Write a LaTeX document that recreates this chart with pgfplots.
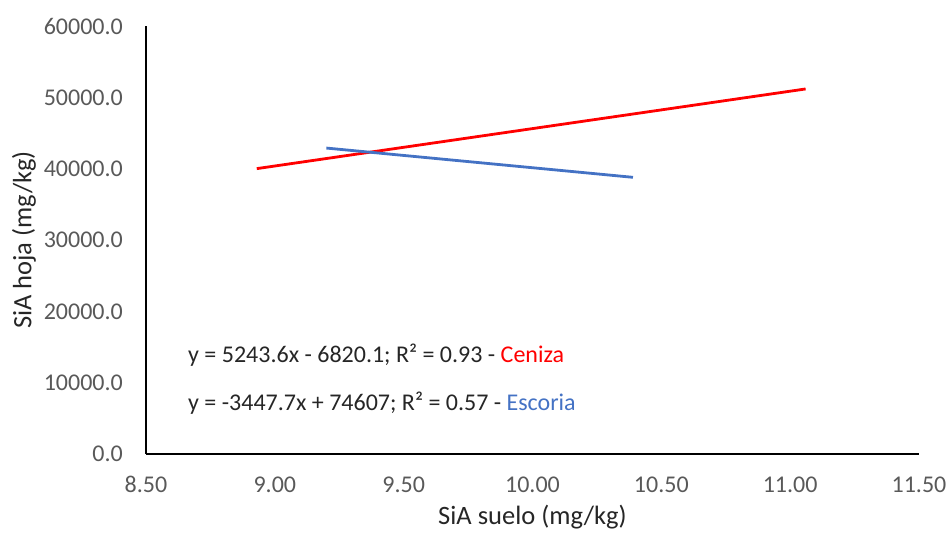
\documentclass[border=0pt]{standalone}
\usepackage{fontspec}
\setmainfont{Carlito}
\usepackage{pgfplots}
\pgfplotsset{compat=1.18}
\definecolor{ceniza}{HTML}{FF0000}
\definecolor{escoria}{HTML}{4472C4}
\definecolor{ticktext}{HTML}{595959}

\begin{document}
\begin{tikzpicture}
\path[use as bounding box] (-146pt,-86pt) rectangle (802pt,454pt);
\begin{axis}[
  at={(0pt,0pt)}, anchor=south west,
  scale only axis, width=773pt, height=428pt,
  xmin=8.5, xmax=11.5, ymin=0, ymax=60000,
  axis x line*=bottom, axis y line*=left,
  axis line style={black, line width=1.6pt},
  xtick={8.5,9,9.5,10,10.5,11,11.5},
  ytick={0,10000,20000,30000,40000,50000,60000},
  major tick length=0pt,
  scaled y ticks=false, scaled x ticks=false,
  tick label style={font=\fontsize{24}{28}\selectfont, text=ticktext, inner sep=0pt},
  /pgf/number format/assume math mode=true,
  xticklabel style={anchor=base, yshift=-39pt,
    /pgf/number format/.cd, fixed, fixed zerofill, precision=2},
  yticklabel style={anchor=east, xshift=-23pt,
    /pgf/number format/.cd, fixed, fixed zerofill, precision=1, 1000 sep={}},
  xlabel={SiA suelo (mg/kg)}, ylabel={SiA hoja (mg/kg)},
  every axis x label/.style={at={([yshift=-71pt]rel axis cs:0.5,0)}, anchor=base,
    font=\fontsize{26.5}{30}\selectfont, text=black!85},
  every axis y label/.style={at={([xshift=-122pt]rel axis cs:0,0.5)}, anchor=center, rotate=90,
    font=\fontsize{26.5}{30}\selectfont, text=black!85},
  clip=false,
]
% Linear trend lines over the observed soil range
\addplot[ceniza, line width=2.8pt] coordinates {(8.93,40005.2) (11.06,51174.1)};
\addplot[escoria, line width=2.8pt] coordinates {(9.20,42888.2) (10.39,38785.4)};
% Regression equations
\node[anchor=base west, font=\fontsize{24}{28}\selectfont, text=black!85, inner sep=0pt]
  at (axis cs:8.663,12885) {y = 5243.6x - 6820.1; R² = 0.93 - \textcolor{ceniza}{Ceniza}};
\node[anchor=base west, font=\fontsize{24}{28}\selectfont, text=black!85, inner sep=0pt]
  at (axis cs:8.663,6162) {y = -3447.7x + 74607; R² = 0.57 - \textcolor{escoria}{Escoria}};
\end{axis}
\end{tikzpicture}
\end{document}
